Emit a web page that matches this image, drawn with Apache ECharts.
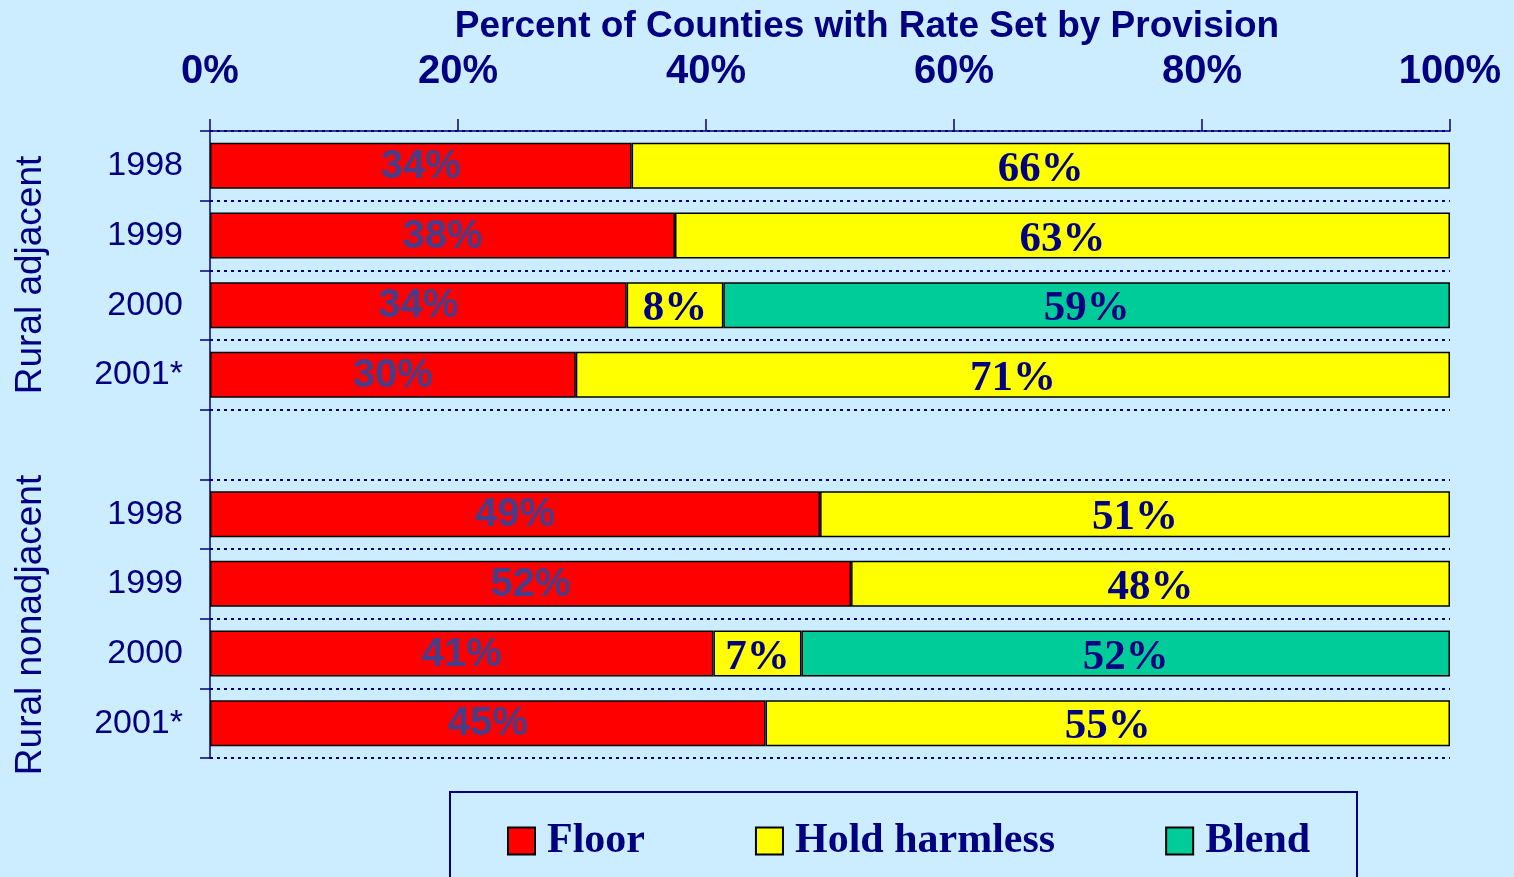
<!DOCTYPE html>
<html>
<head>
<meta charset="utf-8">
<script src="https://cdn.jsdelivr.net/npm/echarts@6/dist/echarts.min.js"></script>
<style>
  html, body { margin: 0; padding: 0; background: #ccecff; }
  #chart { width: 1514px; height: 877px; }
</style>
</head>
<body>
<div id="chart"></div>
<script>
const years = ["1998", "1999", "2000", "2001*", "", "1998", "1999", "2000", "2001*"];
const floorValues = [34, 37.5, 33.6, 29.5, "-", 49.2, 51.7, 40.6, 44.8];
const holdValues = [66, 62.5, 7.8, 70.5, "-", 50.8, 48.3, 7.1, 55.2];
const blendValues = ["-", "-", 58.6, "-", "-", "-", "-", 52.3, "-"];
const xTicks = [0, 20, 40, 60, 80, 100];
const groups = [
  { name: "Rural adjacent", y: 275 },
  { name: "Rural nonadjacent", y: 625 }
];

const navy = "#000080";
const serif = "'Liberation Serif', 'Times New Roman', serif";
const sans = "'Liberation Sans', Arial, sans-serif";

const chart = echarts.init(document.getElementById("chart"), null, { renderer: "canvas" });

function pct(p) {
  return Math.round(p.value) + "%";
}

const serifLabel = {
  show: true,
  position: "inside",
  formatter: pct,
  offset: [0, 4],
  fontFamily: serif,
  fontWeight: "bold",
  fontSize: 43,
  color: navy
};

chart.setOption({
  animation: false,
  backgroundColor: "#ccecff",
  grid: { left: 210, right: 64, top: 131, bottom: 119 },
  xAxis: {
    type: "value",
    position: "top",
    min: xTicks[0],
    max: xTicks[xTicks.length - 1],
    interval: 20,
    axisLine: { show: true, lineStyle: { color: navy, width: 1.5 } },
    axisTick: { show: true, length: 12, lineStyle: { color: navy, width: 1.5 } },
    axisLabel: {
      formatter: "{value}%",
      margin: 39,
      fontFamily: sans,
      fontWeight: "bold",
      fontSize: 40,
      color: navy
    },
    splitLine: { show: false }
  },
  yAxis: {
    type: "category",
    inverse: true,
    data: years,
    axisLine: { show: true, lineStyle: { color: navy, width: 1.5 } },
    axisTick: { show: true, length: 10, lineStyle: { color: navy, width: 1.5 } },
    axisLabel: { margin: 27, fontFamily: sans, fontSize: 34, color: navy, padding: [8, 0, 0, 0] },
    splitLine: { show: true, lineStyle: { color: navy, width: 2, type: [3, 4] } }
  },
  legend: {
    left: 502,
    top: 815,
    itemGap: 110,
    itemWidth: 27,
    itemHeight: 27,
    icon: "rect",
    itemStyle: { borderColor: "#000", borderWidth: 2 },
    textStyle: { fontFamily: serif, fontWeight: "bold", fontSize: 42, color: navy, padding: [0, 0, 0, 7] },
    data: ["Floor", "Hold harmless", "Blend"]
  },
  graphic: [
    {
      type: "text",
      x: 867,
      y: 27,
      style: {
        text: "Percent of Counties with Rate Set by Provision",
        font: "bold 37px " + sans,
        fill: navy,
        align: "center",
        verticalAlign: "middle"
      }
    },
    {
      type: "rect",
      shape: { x: 450, y: 792, width: 907, height: 120 },
      style: { fill: "none", stroke: navy, lineWidth: 2 }
    }
  ].concat(groups.map((g) => ({
    type: "text",
    x: 31,
    y: g.y,
    rotation: Math.PI / 2,
    style: {
      text: g.name,
      font: "37px " + sans,
      fill: navy,
      align: "center",
      verticalAlign: "middle"
    }
  }))),
  series: [
    {
      name: "Floor",
      type: "bar",
      stack: "total",
      barCategoryGap: "34%",
      data: floorValues,
      itemStyle: { color: "#ff0000", borderColor: "#000", borderWidth: 1.5 },
      label: {
        show: true,
        position: "inside",
        formatter: pct,
        offset: [0, 1],
        fontFamily: sans,
        fontWeight: "bold",
        fontSize: 40,
        color: "#483d8b"
      }
    },
    {
      name: "Hold harmless",
      type: "bar",
      stack: "total",
      data: holdValues,
      itemStyle: { color: "#ffff00", borderColor: "#000", borderWidth: 1.5 },
      label: serifLabel
    },
    {
      name: "Blend",
      type: "bar",
      stack: "total",
      data: blendValues,
      itemStyle: { color: "#00cc99", borderColor: "#000", borderWidth: 1.5 },
      label: serifLabel
    }
  ]
});
</script>
</body>
</html>
